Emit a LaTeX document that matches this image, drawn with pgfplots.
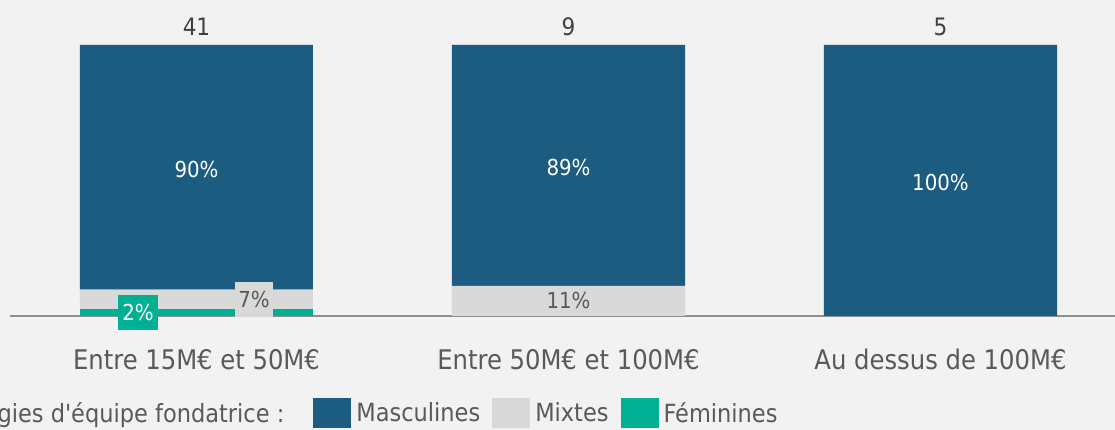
\documentclass[border=0pt]{standalone}
\usepackage{fontspec}
\setmainfont{DejaVu Sans Condensed}[Ligatures=TeXOff]
\usepackage{pgfplots}
\pgfplotsset{compat=1.18}
\definecolor{bgc}{HTML}{F2F2F2}
\definecolor{mascc}{HTML}{1B5C80}
\definecolor{mixc}{HTML}{D9D9D9}
\definecolor{femc}{HTML}{00B092}
\definecolor{textc}{HTML}{595959}
\definecolor{topc}{HTML}{404040}
\definecolor{axisc}{HTML}{8F8F8F}
\pgfplotsset{sw/.style={legend image code/.code={\fill[##1] (0pt,-15pt) rectangle (38pt,15pt);}},
  frame/.style={at={(10pt,114pt)}, anchor=south west,
  scale only axis, width=1105pt, height=271pt,
  xmin=-0.50134, xmax=2.46909, ymin=0, ymax=100, clip=false}}
\begin{document}
\begin{tikzpicture}[x=1pt,y=1pt]
\useasboundingbox (0,0) rectangle (1115,430);
\fill[bgc] (0,0) rectangle (1115,430);
\clip (0,0) rectangle (1115,430);
\begin{axis}[
  frame,
  axis y line=none, axis x line*=bottom,
  x axis line style={color=axisc, line width=1.5pt},
  xtick={0,1,2},
  xticklabels={Entre 15M€ et 50M€, Entre 50M€ et 100M€, Au dessus de 100M€},
  major tick length=0pt,
  xticklabel style={font=\fontsize{27}{31}\selectfont, text=textc, anchor=base, yshift=-54pt},
  ytick=\empty,
  ybar stacked, bar width=233pt,
  legend columns=-1, reverse legend, legend cell align=left,
  legend style={draw=none, fill=none, inner sep=0pt, outer sep=0pt,
    at={(0.6955,-0.3579)}, anchor=east,
    font=\fontsize{25}{30}\selectfont, text=textc,
    nodes={inner sep=1pt},
    /tikz/every odd column/.append style={column sep=4pt},
    /tikz/every even column/.append style={column sep=11pt}},
]
\addplot[fill=femc, draw=none, sw]
  coordinates {(0,2.44) (1,0) (2,0)};
\addplot[fill=mixc, draw=none, sw]
  coordinates {(0,7.32) (1,11.11) (2,0)};
\addplot[fill=mascc, draw=none, sw]
  coordinates {(0,90.24) (1,88.89) (2,100)};
\addlegendimage{empty legend}
\legend{Féminines, Mixtes, Masculines, {Typologies d'équipe fondatrice :\rule{17pt}{0pt}}}
\end{axis}
\begin{axis}[frame, hide axis]
\node[font=\fontsize{24}{28}\selectfont, text=topc] at (axis cs:0,106.6) {41};
\node[font=\fontsize{24}{28}\selectfont, text=topc] at (axis cs:1,106.6) {9};
\node[font=\fontsize{24}{28}\selectfont, text=topc] at (axis cs:2,106.6) {5};
\node[font=\fontsize{22}{26}\selectfont, text=white] at (axis cs:0,54.2) {90\%};
\node[font=\fontsize{22}{26}\selectfont, text=white] at (axis cs:1,54.8) {89\%};
\node[font=\fontsize{22}{26}\selectfont, text=white] at (axis cs:2,49.4) {100\%};
\node[font=\fontsize{22}{26}\selectfont, text=textc] at (axis cs:1,5.56) {11\%};
\node[fill=femc, text=white, minimum width=40pt, minimum height=35pt, inner sep=0pt,
  font=\fontsize{22}{26}\selectfont] at (axis cs:-0.157,1.3) {2\%};
\node[fill=mixc, text=textc, minimum width=38pt, minimum height=35pt, inner sep=0pt,
  font=\fontsize{22}{26}\selectfont] at (axis cs:0.1546,6.09) {7\%};
\end{axis}
\end{tikzpicture}
\end{document}
